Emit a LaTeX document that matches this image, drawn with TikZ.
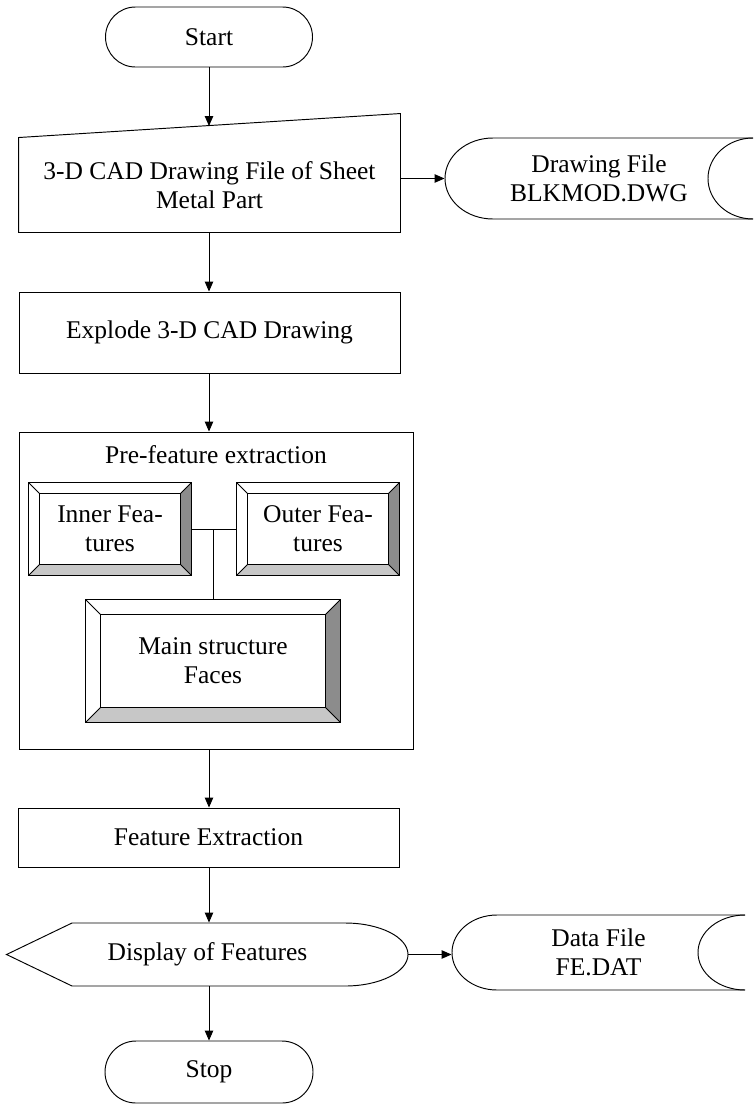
\documentclass[tikz,border=0pt]{standalone}
\usepackage{fontspec}
\setmainfont{Liberation Serif}
\usetikzlibrary{arrows.meta,calc}
\newcommand\bevelframe[2]{%
  \fill[black!22] (#1.south west) -- (#1.south east) -- ($(#1.south east)+(-#2,#2)$) -- ($(#1.south west)+(#2,#2)$) -- cycle;
  \fill[black!45] (#1.north east) -- (#1.south east) -- ($(#1.south east)+(-#2,#2)$) -- ($(#1.north east)+(-#2,-#2)$) -- cycle;
  \draw (#1.north west) rectangle (#1.south east);
  \draw ($(#1.north west)+(#2,-#2)$) rectangle ($(#1.south east)+(-#2,#2)$);
  \draw (#1.north west) -- ++(#2,-#2) (#1.north east) -- ++(-#2,-#2)
        (#1.south west) -- ++(#2,#2) (#1.south east) -- ++(-#2,#2);
}
\begin{document}
\begin{tikzpicture}[x=1pt,y=1pt,line width=0.95pt,
  txt/.style={font=\fontsize{25.5}{29}\selectfont, align=center, inner sep=0pt},
  arr/.style={-{Triangle[length=10pt,width=8.5pt]}},
  procbox/.style={draw, txt}]
\useasboundingbox (0,0) rectangle (753,-1106);

% Start
\node[procbox, rounded corners=30pt, minimum width=207pt, minimum height=60pt] (start) at (209,-37) {Start};

% Manual input
\node[txt, minimum width=381pt, minimum height=94pt] (mi) at (209.5,-185) {3-D CAD Drawing File of Sheet\\Metal Part};
\draw (mi.south west) -- (mi.north west) -- ($(mi.north east)+(0,24)$) -- (mi.south east) -- cycle;
\coordinate (mitop) at (209,-126);
\draw[arr] (start.south) -- (mitop);

% Stored data 1
\node[txt, minimum width=308pt, minimum height=81pt] (sd) at (599,-178.5) {Drawing File\\BLKMOD.DWG};
\draw (753,-138) -- (493,-138) arc[start angle=90, end angle=270, x radius=48, y radius=40.5] -- (753,-219);
\draw (753,-138) arc[start angle=90, end angle=270, x radius=45, y radius=40.5];
\draw[arr] (mi.east |- sd.west) -- (sd.west);

% Explode
\node[procbox, minimum width=381pt, minimum height=81pt] (ex) at (209.5,-332.5) {Explode 3-D CAD Drawing};
\draw[arr] (start.south |- mi.south) -- (start.south |- ex.north);

% Pre-feature container
\node[draw, minimum width=394pt, minimum height=317pt] (pf) at (216,-590.5) {};
\node[txt] (pft) at (216,-455) {Pre-feature extraction};
\draw[arr] (start.south |- ex.south) -- (start.south |- pf.north);

% Bevel boxes
\node[txt, minimum width=162pt, minimum height=92pt] (inner) at (110,-529) {Inner Fea-\\tures};
\bevelframe{inner}{11}
\node[txt, minimum width=162pt, minimum height=92pt] (outer) at (318,-529) {Outer Fea-\\tures};
\bevelframe{outer}{11}
\node[txt, minimum width=254pt, minimum height=122pt] (main) at (213,-661) {Main structure\\Faces};
\bevelframe{main}{15}
\draw (inner.east) -- (outer.west);
\coordinate (join) at (main.north |- inner.east);
\draw (join) -- (main.north);

% Feature extraction
\node[procbox, minimum width=381pt, minimum height=59pt] (fe) at (208.5,-837.5) {Feature Extraction};
\draw[arr] (start.south |- pf.south) -- (start.south |- fe.north);

% Display
\node[txt, minimum width=401pt, minimum height=63pt] (dp) at (207.5,-954.5) {Display of Features};
\draw (dp.west) -- (72,-923) -- (345,-923) arc[start angle=90, end angle=-90, x radius=63, y radius=31.5] -- (72,-986) -- cycle;
\draw[arr] (start.south |- fe.south) -- (start.south |- dp.north);

% Data file
\node[txt, minimum width=293pt, minimum height=75pt] (df) at (598.5,-952.5) {Data File\\FE.DAT};
\draw (745,-915) -- (497,-915) arc[start angle=90, end angle=270, x radius=45, y radius=37.5] -- (745,-990);
\draw (745,-915) arc[start angle=90, end angle=270, x radius=47, y radius=37.5];
\draw[arr] (dp.east) -- (dp.east -| df.west);

% Stop
\node[procbox, rounded corners=31pt, minimum width=208pt, minimum height=62pt] (stop) at (209,-1072) {Stop};
\draw[arr] (stop.north |- dp.south) -- (stop.north);
\end{tikzpicture}
\end{document}
